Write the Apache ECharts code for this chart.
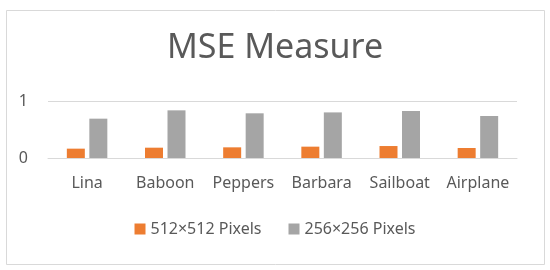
<!DOCTYPE html>
<html>
<head>
<meta charset="utf-8">
<script src="https://cdn.jsdelivr.net/npm/echarts@6/dist/echarts.min.js"></script>
<style>html,body{margin:0;padding:0;background:#fff;}#c{width:550px;height:270px;}</style>
</head>
<body>
<div id="c"></div>
<script>
const categories = ['Lina', 'Baboon', 'Peppers', 'Barbara', 'Sailboat', 'Airplane'];
const series512 = [0.164, 0.181, 0.187, 0.199, 0.21, 0.175];
const series256 = [0.69, 0.836, 0.784, 0.80, 0.825, 0.737];
const seriesNames = ['512×512 Pixels', '256×256 Pixels'];
const yTicks = [0, 1];

const FONT = '"Noto Sans", "Open Sans", sans-serif';
const chart = echarts.init(document.getElementById('c'), null, {renderer: 'canvas'});
chart.setOption({
  animation: false,
  backgroundColor: '#fff',
  graphic: [{
    type: 'rect', left: 4, top: 8, shape: {width: 538, height: 254},
    style: {fill: 'none', stroke: '#d9d9d9', lineWidth: 1}, silent: true
  }],
  title: {
    text: 'MSE Measure', left: 'center', top: 26,
    textStyle: {fontFamily: FONT, fontSize: 34, fontWeight: 'normal', color: '#595959'}
  },
  legend: {
    data: seriesNames, bottom: 28, left: 'center',
    itemWidth: 11, itemHeight: 11, itemGap: 27,
    icon: 'rect',
    textStyle: {fontFamily: FONT, fontSize: 16, color: '#595959'}
  },
  grid: {left: 48, right: 33, top: 101, bottom: 112, containLabel: false},
  xAxis: {
    type: 'category', data: categories,
    axisLine: {show: true, lineStyle: {color: '#d9d9d9', width: 1}},
    axisTick: {show: false},
    axisLabel: {fontFamily: FONT, fontSize: 16, color: '#595959', margin: 17, interval: 0}
  },
  yAxis: {
    type: 'value', min: yTicks[0], max: yTicks[yTicks.length - 1], interval: 1,
    axisLine: {show: false}, axisTick: {show: false},
    splitLine: {lineStyle: {color: '#d9d9d9', width: 1}},
    axisLabel: {fontFamily: FONT, fontSize: 16, color: '#595959', margin: 20}
  },
  series: [
    {name: seriesNames[0], type: 'bar', data: series512, barWidth: 18, barGap: '25%',
     itemStyle: {color: '#ed7d31'}},
    {name: seriesNames[1], type: 'bar', data: series256, barWidth: 18, barGap: '25%',
     itemStyle: {color: '#a5a5a5'}}
  ]
});
</script>
</body>
</html>
